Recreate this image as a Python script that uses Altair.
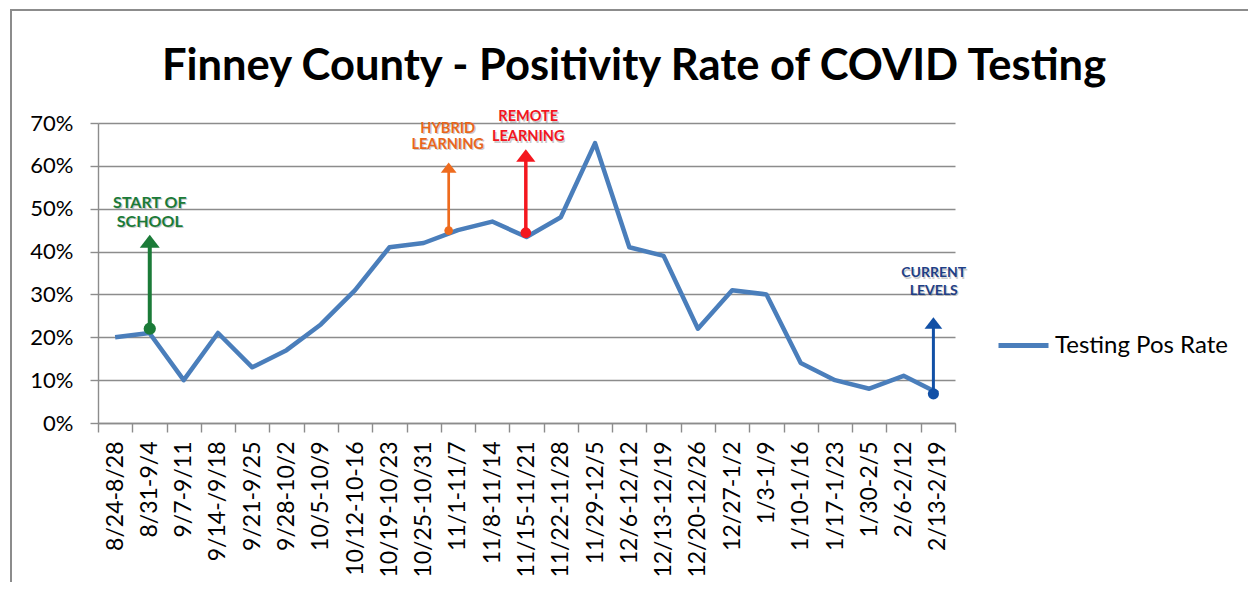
import altair as alt
import pandas as pd

# ---------------- data ----------------
weeks = ["8/24-8/28", "8/31-9/4", "9/7-9/11", "9/14-/9/18", "9/21-9/25", "9/28-10/2",
         "10/5-10/9", "10/12-10-16", "10/19-10/23", "10/25-10/31", "11/1-11/7",
         "11/8-11/14", "11/15-11/21", "11/22-11/28", "11/29-12/5", "12/6-12/12",
         "12/13-12/19", "12/20-12/26", "12/27-1/2", "1/3-1/9", "1/10-1/16",
         "1/17-1/23", "1/30-2/5", "2/6-2/12", "2/13-2/19"]
pos_rate = [0.20, 0.21, 0.10, 0.21, 0.13, 0.17, 0.23, 0.31, 0.41, 0.42, 0.45, 0.47,
            0.434, 0.48, 0.653, 0.41, 0.39, 0.22, 0.31, 0.30, 0.14, 0.10, 0.08, 0.11, 0.07]
series_name = "Testing Pos Rate"
title_text = "Finney County - Positivity Rate of COVID Testing"

# annotation arrows (position on week axis, where week i is centred at i + 0.5)
ann_pos = [1.51, 10.23, 12.48, 24.37]
ann_dot = [0.22, 0.449, 0.444, 0.068]
ann_tip = [0.439, 0.608, 0.639, 0.247]
ann_shaft_end = [0.425, 0.598, 0.628, 0.237]
ann_color = ["#1b7b38", "#ee6b1e", "#f4171f", "#1250a6"]
ann_head = [400, 250, 370, 315]
ann_dot_size = [150, 75, 115, 125]
ann_width = [4, 2.7, 3.5, 3]

# annotation texts (two lines each; y is the first line)
label_lines = [["START OF", "SCHOOL"], ["HYBRID", "LEARNING"],
               ["REMOTE", "LEARNING"], ["CURRENT", "LEVELS"]]
label_pos = [1.51, 10.2, 12.55, 24.38]
label_y = [0.5145, 0.686, 0.713, 0.349]
label_color = ["#1b7b38", "#e8661c", "#f2161f", "#1e3f86"]
label_size = [16, 14.5, 14.5, 14]
label_line_height = [19, 16, 20, 17.5]

# ---------------- tables ----------------
line_df = pd.DataFrame({
    "week": weeks,
    "rate": pos_rate,
    "series": [series_name] * len(weeks),
})
ann_df = pd.DataFrame({
    "pos": ann_pos, "dot": ann_dot, "tip": ann_tip, "shaft": ann_shaft_end,
    "col": ann_color, "head": ann_head, "dsize": ann_dot_size, "w": ann_width,
})

GRAY = "#8c8c8c"
FONT = "Lato"

y_scale = alt.Scale(domain=[0, 0.7], nice=False)
q_x = alt.X("pos:Q", scale=alt.Scale(domain=[0, len(weeks)], nice=False, zero=False), axis=None)

x_axis = alt.Axis(
    tickBand="extent", labelAngle=270, labelAlign="right", labelBaseline="middle",
    labelFont=FONT, labelFontSize=23, labelColor="black",
    labelPadding=9, labelOverlap=False, labelBound=False, labelFlush=False,
    tickSize=9, tickWidth=1.4, tickColor=GRAY,
    domainColor=GRAY, domainWidth=1.4, grid=False, title=None,
)
y_axis = alt.Axis(
    values=[0, 0.1, 0.2, 0.3, 0.4, 0.5, 0.6, 0.7], format=".0%",
    labelFont=FONT, labelFontSize=22, labelColor="black", labelPadding=17,
    tickSize=8, tickColor=GRAY, tickWidth=1.4,
    domainColor=GRAY, domainWidth=1.4,
    grid=True, gridColor=GRAY, gridWidth=1.4, title=None,
)

line = alt.Chart(line_df).mark_line(strokeWidth=4.5, strokeJoin="round").encode(
    x=alt.X("week:N", sort=weeks,
            scale=alt.Scale(type="band", paddingInner=0, paddingOuter=0), axis=x_axis),
    y=alt.Y("rate:Q", scale=y_scale, axis=y_axis),
    color=alt.Color("series:N", scale=alt.Scale(range=["#4a7ebb"]),
                    legend=alt.Legend(orient="none", legendX=898, legendY=195, title=None,
                                      labelFont=FONT, labelFontSize=24, labelColor="black",
                                      labelLimit=400,
                                      symbolType="stroke", symbolSize=2500, symbolStrokeWidth=5,
                                      labelOffset=4, padding=0)),
)

shafts = alt.Chart(ann_df).mark_rule(strokeCap="butt").encode(
    x=q_x, y="dot:Q", y2="shaft:Q",
    stroke=alt.Stroke("col:N", scale=None),
    strokeWidth=alt.StrokeWidth("w:Q", scale=None),
)
heads = alt.Chart(ann_df).mark_point(shape="M0,0L1,1.3L-1,1.3Z", filled=True,
                                      opacity=1, strokeWidth=0).encode(
    x=q_x, y="tip:Q",
    fill=alt.Fill("col:N", scale=None),
    size=alt.Size("head:Q", scale=None),
)
dots = alt.Chart(ann_df).mark_circle(opacity=1).encode(
    x=q_x, y="dot:Q",
    fill=alt.Fill("col:N", scale=None),
    size=alt.Size("dsize:Q", scale=None),
)

text_layers = []
for lines, px, py, col, fs, lh in zip(label_lines, label_pos, label_y, label_color,
                                      label_size, label_line_height):
    df = pd.DataFrame({"pos": [px], "y": [py], "text": [lines]})
    base = alt.Chart(df)
    text_layers.append(base.mark_text(
        font=FONT, fontWeight="bold", fontSize=fs, lineHeight=lh, baseline="middle",
        align="center", dx=1.2, dy=1.2, opacity=0.3, color="#555555"
    ).encode(x=q_x, y="y:Q", text="text"))
    text_layers.append(base.mark_text(
        font=FONT, fontWeight="bold", fontSize=fs, lineHeight=lh, baseline="middle",
        align="center", color=col
    ).encode(x=q_x, y="y:Q", text="text"))

frame_df = pd.DataFrame({"k": [0]})
frame_left = alt.Chart(frame_df).mark_rule(color=GRAY, strokeWidth=2).encode(
    x=alt.value(-87), y=alt.value(-113), y2=alt.value(470))
frame_top = alt.Chart(frame_df).mark_rule(color=GRAY, strokeWidth=2).encode(
    x=alt.value(-88), x2=alt.value(1170), y=alt.value(-113))
title_mark = alt.Chart(frame_df).mark_text(
    text=title_text, font=FONT, fontSize=43.5, fontWeight="bold", color="black",
    align="center", baseline="alphabetic").encode(x=alt.value(536), y=alt.value(-43))

chart = alt.layer(
    frame_left, frame_top, title_mark, line, shafts, heads, dots, *text_layers
).resolve_scale(x="independent").properties(
    width=857, height=300,
    autosize=alt.AutoSizeParams(type="none"),
    padding={"left": 90, "top": 115, "right": 293, "bottom": 159},
).configure_view(stroke=None)

chart.save("out.html", embed_options={"renderer": "svg", "actions": False})
